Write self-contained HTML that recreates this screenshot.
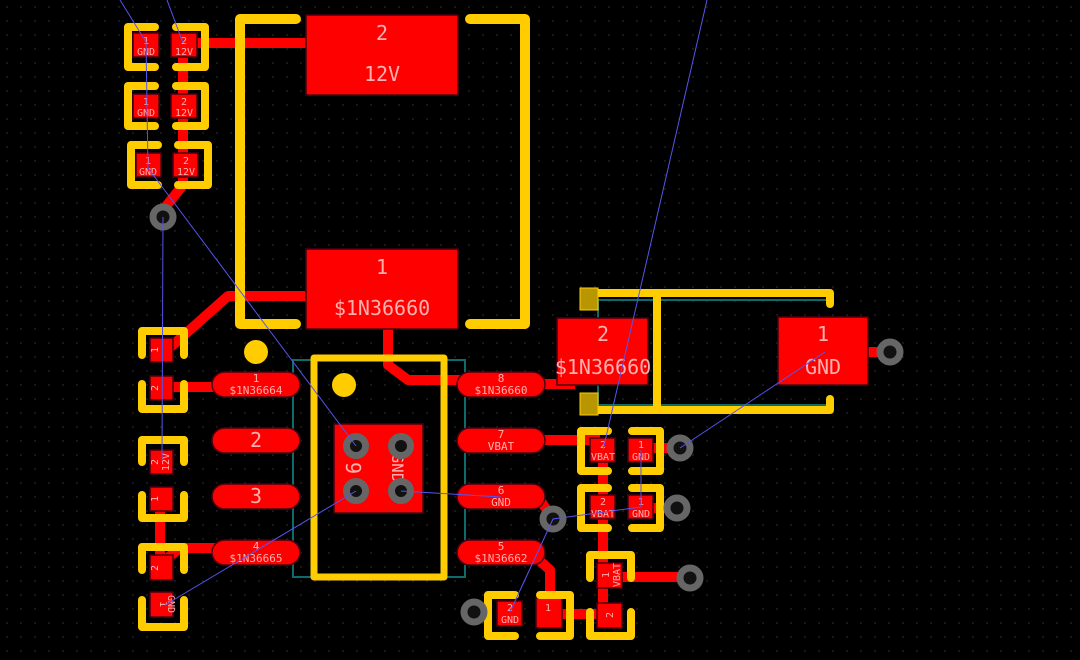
<!DOCTYPE html>
<html><head><meta charset="utf-8"><style>
html,body{margin:0;padding:0;background:#000;}
svg{display:block}
text{font-family:"DejaVu Sans Mono","Liberation Mono",monospace;fill:#ffb0b0;text-anchor:middle}
</style></head><body>
<svg width="1080" height="660" viewBox="0 0 1080 660" xmlns="http://www.w3.org/2000/svg">
<defs>
<pattern id="g" width="14" height="14" patternUnits="userSpaceOnUse"><circle cx="7" cy="7" r="0.7" fill="#3a3a3a"/></pattern>
</defs>
<rect width="1080" height="660" fill="#000"/>
<rect width="1080" height="660" fill="url(#g)"/>

<!-- teal fab outlines -->
<g fill="none" stroke="#0f6b6b" stroke-width="2">
<rect x="293" y="360" width="172" height="217"/>
<line x1="598" y1="300" x2="598" y2="405"/>
<line x1="598" y1="300" x2="830" y2="300"/>
<line x1="598" y1="405" x2="830" y2="405"/>
</g>

<!-- red traces -->
<g stroke="#ff0000" stroke-width="10" fill="none" stroke-linejoin="round">
<path d="M190,43 H310"/>
<path d="M183,43 V185 L163,210"/>
<path d="M310,296 H228 L165,352"/>
<path d="M165,387 H255"/>
<path d="M160,495 V568"/>
<path d="M165,560 L180,548 H255"/>
<path d="M388,325 V365 L408,380 H500"/>
<path d="M500,384 H575"/>
<path d="M500,440 H600"/>
<path d="M603,440 V605"/>
<path d="M500,496 L540,500 L553,519"/>
<path d="M530,552 L550,570 V612"/>
<path d="M550,614 H605"/>
<path d="M610,577 H690"/>
<path d="M650,448 H680"/>
<path d="M650,508 H677"/>
<path d="M868,352 H890"/>
<path d="M490,612 H474"/>
</g>

<!-- big diode pads -->
<g fill="#ff0000" stroke="#4a0010" stroke-width="1.5">
<rect x="306" y="15" width="152" height="80"/>
<rect x="306" y="249" width="152" height="80"/>
<rect x="557" y="318" width="91" height="67"/>
<rect x="778" y="317" width="90" height="68"/>
<rect x="334" y="424" width="89" height="89"/>
</g>
<g font-size="20">
<text x="382" y="40">2</text><text x="382" y="81">12V</text>
<text x="382" y="274">1</text><text x="382" y="315">$1N36660</text>
<text x="603" y="341">2</text><text x="603" y="374">$1N36660</text>
<text x="823" y="341">1</text><text x="823" y="374">GND</text>
</g>

<!-- IC pads -->
<g fill="#ff0000" stroke="#4a0010" stroke-width="1.5">
<rect x="212" y="372" width="88" height="25" rx="12.5"/>
<rect x="212" y="428" width="88" height="25" rx="12.5"/>
<rect x="212" y="484" width="88" height="25" rx="12.5"/>
<rect x="212" y="540" width="88" height="25" rx="12.5"/>
<rect x="457" y="372" width="88" height="25" rx="12.5"/>
<rect x="457" y="428" width="88" height="25" rx="12.5"/>
<rect x="457" y="484" width="88" height="25" rx="12.5"/>
<rect x="457" y="540" width="88" height="25" rx="12.5"/>
</g>
<g font-size="11">
<text x="256" y="382">1</text><text x="256" y="394">$1N36664</text>
<text x="256" y="550">4</text><text x="256" y="562">$1N36665</text>
<text x="501" y="382">8</text><text x="501" y="394">$1N36660</text>
<text x="501" y="438">7</text><text x="501" y="450">VBAT</text>
<text x="501" y="494">6</text><text x="501" y="506">GND</text>
<text x="501" y="550">5</text><text x="501" y="562">$1N36662</text>
</g>
<text x="256" y="447" font-size="20">2</text>
<text x="256" y="503" font-size="20">3</text>
<text font-size="20" transform="translate(346,468) rotate(90)">9</text>
<text font-size="16" transform="translate(392,468) rotate(90)">GND</text>

<!-- small pads -->
<g fill="#ff0000" stroke="#4a0010" stroke-width="1.5">
<rect x="133" y="33" width="26" height="24"/><rect x="171" y="33" width="26" height="24"/>
<rect x="133" y="94" width="26" height="24"/><rect x="171" y="94" width="26" height="24"/>
<rect x="136" y="153" width="25" height="24"/><rect x="173" y="153" width="25" height="24"/>
<rect x="150" y="338" width="23" height="24"/><rect x="150" y="376" width="23" height="24"/>
<rect x="150" y="450" width="23" height="24"/><rect x="150" y="487" width="23" height="24"/>
<rect x="150" y="555" width="23" height="25"/><rect x="150" y="592" width="23" height="25"/>
<rect x="590" y="438" width="25" height="24"/><rect x="628" y="438" width="25" height="24"/>
<rect x="590" y="495" width="25" height="24"/><rect x="628" y="495" width="25" height="24"/>
<rect x="597" y="563" width="25" height="25"/><rect x="597" y="603" width="25" height="25"/>
<rect x="497" y="601" width="25" height="25"/><rect x="536" y="598" width="26" height="30"/>
</g>
<g font-size="10">
<text x="146" y="44">1</text><text x="146" y="55">GND</text><text x="184" y="44">2</text><text x="184" y="55">12V</text>
<text x="146" y="105">1</text><text x="146" y="116">GND</text><text x="184" y="105">2</text><text x="184" y="116">12V</text>
<text x="148" y="164">1</text><text x="148" y="175">GND</text><text x="186" y="164">2</text><text x="186" y="175">12V</text>
<text x="603" y="448">2</text><text x="603" y="460">VBAT</text><text x="641" y="448">1</text><text x="641" y="460">GND</text>
<text x="603" y="505">2</text><text x="603" y="517">VBAT</text><text x="641" y="505">1</text><text x="641" y="517">GND</text>
<text x="510" y="611">2</text><text x="510" y="623">GND</text><text x="548" y="611">1</text>
</g>
<g font-size="10">
<text transform="translate(158,350) rotate(-90)">1</text>
<text transform="translate(158,388) rotate(-90)">2</text>
<text transform="translate(158,462) rotate(-90)">2</text>
<text transform="translate(169,462) rotate(-90)">12V</text>
<text transform="translate(158,499) rotate(-90)">1</text>
<text transform="translate(158,568) rotate(-90)">2</text>
<text transform="translate(160,604) rotate(90)">1</text>
<text transform="translate(168,604) rotate(90)">GND</text>
<text transform="translate(609,575) rotate(-90)">1</text>
<text transform="translate(620,575) rotate(-90)">VBAT</text>
<text transform="translate(613,615) rotate(-90)">2</text>
</g>

<!-- yellow silkscreen -->
<g fill="none" stroke="#ffcc00" stroke-width="8" stroke-linecap="round" stroke-linejoin="round">
<path d="M296,19 H240 V324 H296" stroke-width="10"/>
<path d="M470,19 H525 V324 H470" stroke-width="10"/>
<rect x="314" y="358" width="130" height="219" stroke-width="7"/>
<path d="M598,293 H830 V304"/><path d="M598,410 H830 V399"/><path d="M657,293 V410"/>
<path d="M155,27 H128 V67 H155"/><path d="M176,27 H205 V67 H176"/>
<path d="M155,86 H128 V126 H155"/><path d="M176,86 H205 V126 H176"/>
<path d="M158,145 H131 V185 H158"/><path d="M178,145 H208 V185 H178"/>
<path d="M142,355 V331 H184 V355"/><path d="M142,384 V409 H184 V384"/>
<path d="M142,462 V440 H184 V462"/><path d="M142,495 V518 H184 V495"/>
<path d="M142,570 V547 H184 V570"/><path d="M142,600 V627 H184 V600"/>
<path d="M608,431 H581 V471 H608"/><path d="M632,431 H660 V471 H632"/>
<path d="M608,488 H581 V528 H608"/><path d="M632,488 H660 V528 H632"/>
<path d="M590,578 V555 H631 V578"/><path d="M590,612 V636 H631 V612"/>
<path d="M515,595 H488 V636 H515"/><path d="M540,595 H570 V636 H540"/>
</g>
<rect x="580" y="288" width="18" height="22" fill="#b89600" stroke="#ffcc00" stroke-width="1"/>
<rect x="580" y="393" width="18" height="22" fill="#b89600" stroke="#ffcc00" stroke-width="1"/>
<circle cx="256" cy="352" r="12" fill="#ffcc00"/>
<circle cx="344" cy="385" r="12" fill="#ffcc00"/>

<!-- vias -->
<g fill="#111" stroke="#666" stroke-width="7">
<circle cx="163" cy="217" r="10"/>
<circle cx="356" cy="446" r="9.5"/><circle cx="401" cy="446" r="9.5"/>
<circle cx="356" cy="491" r="9.5"/><circle cx="401" cy="491" r="9.5"/>
<circle cx="890" cy="352" r="10"/>
<circle cx="680" cy="448" r="10"/><circle cx="677" cy="508" r="10"/>
<circle cx="553" cy="519" r="10"/><circle cx="690" cy="578" r="10"/>
<circle cx="474" cy="612" r="10"/>
</g>

<!-- ratsnest -->
<g stroke="#5555ee" stroke-width="1" fill="none">
<path d="M120,0 L146,42 L148,168 L356,446"/>
<path d="M167,0 L183,43"/>
<path d="M163,217 L162,460"/>
<path d="M356,491 L165,605"/>
<path d="M401,491 L501,497"/>
<path d="M707,0 L603,450"/>
<path d="M680,448 L825,352"/>
<path d="M641,450 L641,507 L553,519 L510,612"/>
</g>
</svg>
</body></html>
